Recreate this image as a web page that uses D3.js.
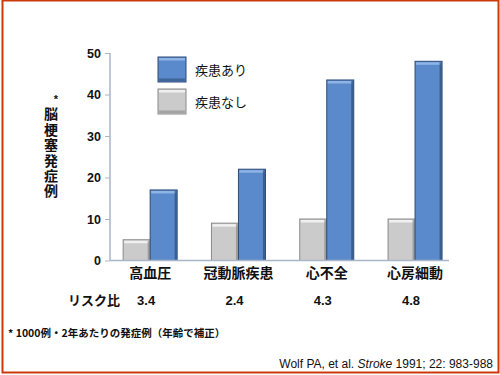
<!DOCTYPE html>
<html>
<head>
<meta charset="utf-8">
<script src="https://cdn.jsdelivr.net/npm/d3@7"></script>
<style>
    body { margin: 0; background: #fff; }
    svg { display: block; font-family: "Liberation Sans", Arial, "Noto Sans CJK JP", sans-serif; }
</style>
</head>
<body>
<svg id="chart" width="500" height="375"></svg>
<script>
// --- data
const CATEGORIES = ['高血圧', '冠動脈疾患', '心不全', '心房細動'];
const WITHOUT = [5, 9, 10, 10];      // 疾患なし
const WITH = [17, 22, 43.5, 48];     // 疾患あり
const RISK = ['3.4', '2.4', '4.3', '4.8'];
const Y_TICKS = [0, 10, 20, 30, 40, 50];
const SERIES = ['疾患なし', '疾患あり'];

const COLORS = {
    '疾患あり': { fill: '#5a8acb', light: '#8fb4e6', dark: '#2d4b77' },
    '疾患なし': { fill: '#cbcbcb', light: '#f0f0f0', dark: '#8a8a8a' }
};
const JP = '"Noto Sans CJK JP", sans-serif';

const svg = d3.select('#chart');

const margin = { left: 110, right: 449, top: 53, bottom: 260.5 };

const y = d3.scaleLinear()
    .domain([0, 50])
    .range([margin.bottom, margin.top]);

const x0 = d3.scaleBand()
    .domain(CATEGORIES)
    .range([106, 459.2]);

const x1 = d3.scaleBand()
    .domain(SERIES)
    .range([0, 54]);

// --- border
svg.append('rect')
    .attr('x', 2.5).attr('y', 0.5)
    .attr('width', 496).attr('height', 372)
    .attr('fill', 'none')
    .attr('stroke', '#cc3a0a')
    .attr('stroke-width', 2);

// --- bars
const rows = CATEGORIES.map((c, i) => ({ cat: c, vals: [
    { key: '疾患なし', v: WITHOUT[i] },
    { key: '疾患あり', v: WITH[i] }
]}));

const groups = svg.append('g').selectAll('g')
    .data(rows)
    .enter()
    .append('g')
    .attr('transform', d => `translate(${x0(d.cat) + (x0.bandwidth() - 54) / 2},0)`);

function drawBar(sel) {
    sel.each(function(d) {
        const g = d3.select(this);
        const c = COLORS[d.key];
        const bx = x1(d.key), bw = x1.bandwidth();
        const top = y(d.v), h = y(0) - y(d.v);
        g.append('rect')
            .attr('x', bx).attr('y', top)
            .attr('width', bw).attr('height', h)
            .attr('fill', c.fill)
            .attr('stroke', c.dark)
            .attr('stroke-width', 1);
        // bevel: light top edge, dark right edge
        g.append('rect')
            .attr('x', bx + 1).attr('y', top + 1)
            .attr('width', bw - 2).attr('height', 2.5)
            .attr('fill', c.light);
        g.append('rect')
            .attr('x', bx + bw - 2.5).attr('y', top + 1)
            .attr('width', 2).attr('height', h - 1)
            .attr('fill', c.dark)
            .attr('opacity', 0.7);
    });
}

groups.selectAll('g.bar')
    .data(d => d.vals)
    .enter()
    .append('g')
    .attr('class', 'bar')
    .call(drawBar);

// --- y axis
const yAxis = svg.append('g')
    .attr('transform', `translate(${margin.left},0)`)
    .call(d3.axisLeft(y).tickValues(Y_TICKS).tickSize(5).tickPadding(4));
yAxis.select('.domain').attr('stroke', '#a9b6c6').attr('stroke-width', 1.5).attr('d', `M0,${y(0)}V${y(50)}`);
yAxis.selectAll('.tick line').attr('stroke', '#a9b6c6');
yAxis.selectAll('.tick text')
    .attr('font-size', 12.5)
    .attr('font-weight', 'bold')
    .attr('fill', '#111')
    .attr('font-family', '"Liberation Sans", Arial, sans-serif');

// x axis baseline
svg.append('line')
    .attr('x1', margin.left).attr('x2', margin.right)
    .attr('y1', y(0)).attr('y2', y(0))
    .attr('stroke', '#a9b6c6')
    .attr('stroke-width', 1.5);

// --- category labels
svg.append('g').selectAll('text')
    .data(CATEGORIES)
    .enter()
    .append('text')
    .attr('x', d => x0(d) + x0.bandwidth() / 2)
    .attr('y', 278)
    .attr('text-anchor', 'middle')
    .attr('font-size', 14)
    .attr('font-weight', 'bold')
    .attr('font-family', JP)
    .attr('fill', '#111')
    .text(d => d);

// --- risk ratio row
svg.append('text')
    .attr('x', 68).attr('y', 305)
    .attr('font-size', 13)
    .attr('font-weight', 'bold')
    .attr('font-family', JP)
    .attr('fill', '#111')
    .text('リスク比');

svg.append('g').selectAll('text')
    .data(RISK)
    .enter()
    .append('text')
    .attr('x', (d, i) => x0(CATEGORIES[i]) + x0.bandwidth() / 2 - 4)
    .attr('y', 305)
    .attr('text-anchor', 'middle')
    .attr('font-size', 13)
    .attr('font-weight', 'bold')
    .attr('fill', '#111')
    .attr('font-family', '"Liberation Sans", Arial, sans-serif')
    .text(d => d);

// --- y label (vertical writing)
svg.append('text')
    .attr('x', 56).attr('y', 103)
    .attr('text-anchor', 'middle')
    .attr('font-size', 11)
    .attr('font-weight', 'bold')
    .attr('fill', '#111')
    .text('*');
svg.append('text')
    .attr('x', 51)
    .attr('y', 107)
    .attr('writing-mode', 'tb')
    .style('writing-mode', 'vertical-rl')
    .style('letter-spacing', '1.4px')
    .attr('font-size', 14)
    .attr('font-weight', 'bold')
    .attr('font-family', JP)
    .attr('fill', '#111')
    .text('脳梗塞発症例');

// --- legend
const legendItems = [
    { key: '疾患あり', y: 57 },
    { key: '疾患なし', y: 89 }
];
const legend = svg.append('g').selectAll('g')
    .data(legendItems)
    .enter()
    .append('g')
    .attr('transform', d => `translate(158,${d.y})`);
legend.append('rect')
    .attr('width', 28).attr('height', 25)
    .attr('fill', d => COLORS[d.key].fill)
    .attr('stroke', d => COLORS[d.key].dark);
legend.append('rect')
    .attr('x', 1).attr('y', 1)
    .attr('width', 26).attr('height', 2.5)
    .attr('fill', d => COLORS[d.key].light);
legend.append('rect')
    .attr('x', 1).attr('y', 21.5)
    .attr('width', 26).attr('height', 2.5)
    .attr('fill', d => COLORS[d.key].dark)
    .attr('opacity', 0.6);
legend.append('text')
    .attr('x', 37).attr('y', 17.5)
    .attr('font-size', 13)
    .attr('font-family', JP)
    .attr('fill', '#111')
    .text(d => d.key);

// --- footnote
svg.append('text')
    .attr('x', 8).attr('y', 337)
    .attr('font-size', 10.5)
    .attr('font-weight', 'bold')
    .attr('font-family', JP)
    .attr('fill', '#111')
    .text('* 1000例・2年あたりの発症例（年齢で補正）');

// --- citation
const cite = svg.append('text')
    .attr('x', 493).attr('y', 368)
    .attr('text-anchor', 'end')
    .attr('font-size', 12)
    .attr('fill', '#111')
    .attr('font-family', '"Liberation Sans", Arial, sans-serif');
cite.append('tspan').text('Wolf PA, et al. ');
cite.append('tspan').attr('font-style', 'italic').text('Stroke');
cite.append('tspan').text(' 1991; 22: 983-988');
</script>
</body>
</html>
